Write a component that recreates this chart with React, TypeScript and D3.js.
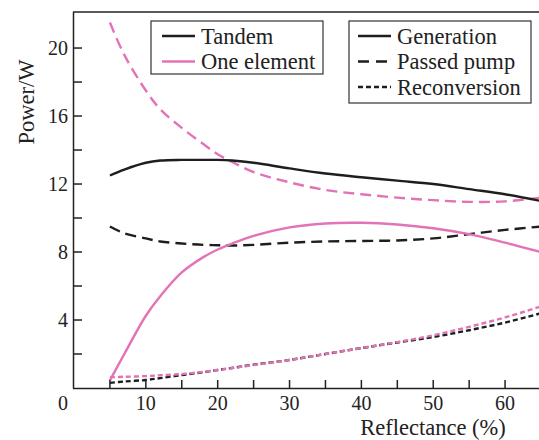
import React, { useEffect, useRef } from 'react';
import * as d3 from 'd3';

const reflectance = [5, 7, 10, 12, 15, 18, 20, 22, 25, 30, 35, 40, 45, 50, 55, 60, 65];

// Tandem (black)
const tandemGeneration = [12.5, 12.85, 13.25, 13.38, 13.42, 13.42, 13.42, 13.38, 13.25, 12.92, 12.62, 12.4, 12.2, 12.0, 11.7, 11.4, 11.0];
const tandemPassed = [9.5, 9.1, 8.8, 8.62, 8.5, 8.42, 8.4, 8.38, 8.42, 8.55, 8.62, 8.65, 8.68, 8.8, 9.05, 9.3, 9.5];
const tandemReconv = [0.3, 0.38, 0.47, 0.58, 0.76, 0.93, 1.06, 1.18, 1.37, 1.65, 2.0, 2.35, 2.68, 3.0, 3.4, 3.85, 4.4];

// One element (pink)
const oneGeneration = [0.45, 2.0, 4.25, 5.4, 6.8, 7.7, 8.15, 8.5, 8.95, 9.45, 9.68, 9.72, 9.62, 9.4, 9.05, 8.55, 8.0];
const onePassed = [21.5, 19.6, 17.5, 16.4, 15.3, 14.35, 13.75, 13.3, 12.7, 12.1, 11.65, 11.4, 11.2, 11.05, 10.95, 10.98, 11.2];
const oneReconv = [0.63, 0.66, 0.7, 0.75, 0.82, 0.95, 1.06, 1.17, 1.35, 1.65, 2.0, 2.35, 2.7, 3.1, 3.6, 4.15, 4.8];

const xTicks = [0, 10, 20, 30, 40, 50, 60];
const yTicks = [4, 8, 12, 16, 20];

const BLACK = '#1e1e1e';
const PINK = '#e373b7';
const FONT = '"Liberation Serif", "Times New Roman", serif';

const LONG_DASH = '11,6';
const SHORT_DASH = '5,3';

export default function App() {
  const svgRef = useRef<SVGSVGElement>(null);

  useEffect(() => {
    if (!svgRef.current) return;
    const width = 539;
    const height = 440;
    const svg = d3.select(svgRef.current).attr('width', width).attr('height', height).html('');

    const x = d3.scaleLinear().domain([0, 65]).range([74, 541]);
    const y = d3.scaleLinear().domain([0, 22.12]).range([388, 12]);

    svg.append('defs').append('clipPath').attr('id', 'plot-clip')
      .append('rect').attr('x', 74).attr('y', 12).attr('width', width - 74).attr('height', 376);

    const line = d3.line<number>()
      .x((_, i) => x(reflectance[i]))
      .y((d) => y(d))
      .curve(d3.curveCatmullRom.alpha(0.5));

    const series = [
      { values: tandemReconv, color: BLACK, dash: SHORT_DASH },
      { values: oneReconv, color: PINK, dash: SHORT_DASH },
      { values: tandemPassed, color: BLACK, dash: LONG_DASH },
      { values: oneGeneration, color: PINK, dash: null },
      { values: onePassed, color: PINK, dash: LONG_DASH },
      { values: tandemGeneration, color: BLACK, dash: null },
    ];

    const plot = svg.append('g').attr('clip-path', 'url(#plot-clip)');
    series.forEach((s) => {
      plot.append('path')
        .attr('d', line(s.values))
        .attr('fill', 'none')
        .attr('stroke', s.color)
        .attr('stroke-width', 2.4)
        .attr('stroke-dasharray', s.dash)
        .attr('stroke-linejoin', 'round');
    });

    // axes frame
    const axis = svg.append('g').attr('stroke', '#222').attr('stroke-width', 1.5);
    axis.append('line').attr('x1', 73.5).attr('x2', 73.5).attr('y1', 12).attr('y2', 388.5);
    axis.append('line').attr('x1', 73).attr('x2', width).attr('y1', 388.5).attr('y2', 388.5);
    axis.append('line').attr('x1', 73).attr('x2', width).attr('y1', 12).attr('y2', 12);

    // x ticks (inward, every 5)
    d3.range(5, 65, 5).forEach((v) => {
      axis.append('line').attr('x1', x(v)).attr('x2', x(v)).attr('y1', 388).attr('y2', 380);
    });
    // y ticks (inward, every 2)
    d3.range(2, 22, 2).forEach((v) => {
      axis.append('line').attr('x1', 74).attr('x2', 82).attr('y1', y(v)).attr('y2', y(v));
    });

    const txt = svg.append('g').attr('font-family', FONT).attr('fill', '#222');
    xTicks.forEach((v) => {
      txt.append('text')
        .attr('x', v === 0 ? 63 : x(v))
        .attr('y', 410)
        .attr('text-anchor', 'middle')
        .attr('font-size', 20)
        .text(v);
    });
    yTicks.forEach((v) => {
      txt.append('text')
        .attr('x', 68)
        .attr('y', y(v) + 7)
        .attr('text-anchor', 'end')
        .attr('font-size', 20)
        .text(v);
    });
    txt.append('text')
      .attr('x', 433).attr('y', 435)
      .attr('text-anchor', 'middle')
      .attr('font-size', 22.5)
      .text('Reflectance (%)');
    txt.append('text')
      .attr('transform', 'translate(34,102) rotate(-90)')
      .attr('text-anchor', 'middle')
      .attr('font-size', 22.5)
      .text('Power/W');

    // legends
    const legend = (bx: number, by: number, bw: number, bh: number, lx: number,
      items: { label: string; color: string; dash: string | null }[]) => {
      const g = svg.append('g');
      g.append('rect').attr('x', bx).attr('y', by).attr('width', bw).attr('height', bh)
        .attr('fill', 'white').attr('stroke', '#333').attr('stroke-width', 1.2);
      items.forEach((it, i) => {
        const cy = by + 15 + i * 25.5;
        g.append('line').attr('x1', lx).attr('x2', lx + 33).attr('y1', cy).attr('y2', cy)
          .attr('stroke', it.color).attr('stroke-width', 2.6).attr('stroke-dasharray', it.dash);
        g.append('text').attr('x', lx + 39).attr('y', cy + 7.5)
          .attr('font-family', FONT).attr('font-size', 22.5).attr('fill', '#222')
          .text(it.label);
      });
    };
    legend(151, 21, 172, 53, 162, [
      { label: 'Tandem', color: BLACK, dash: null },
      { label: 'One element', color: PINK, dash: null },
    ]);
    legend(349, 21, 182, 82, 358, [
      { label: 'Generation', color: BLACK, dash: null },
      { label: 'Passed pump', color: BLACK, dash: '11,7' },
      { label: 'Reconversion', color: BLACK, dash: '5,3' },
    ]);
  }, []);

  return (
    <svg ref={svgRef} style={{ position: 'absolute', left: 0, top: 0, background: 'white' }} />
  );
}
